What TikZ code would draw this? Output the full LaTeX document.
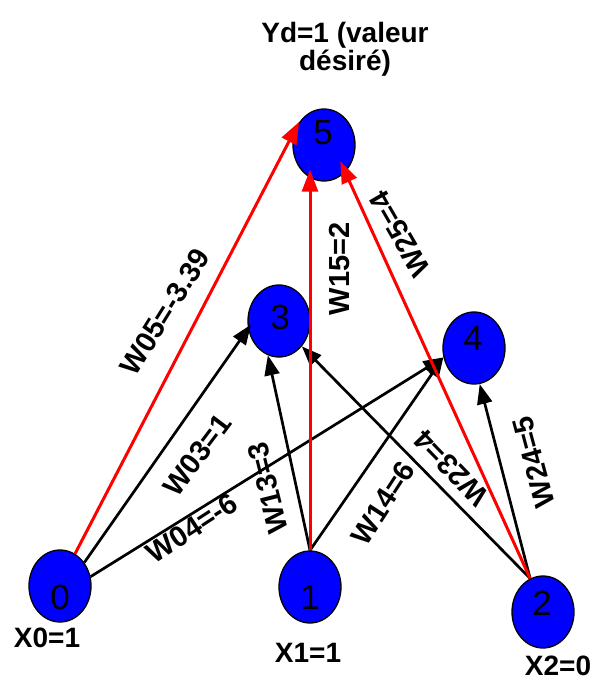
\documentclass[tikz,border=0pt]{standalone}
\usepackage{fontspec}
\setmainfont{Liberation Sans}
\usetikzlibrary{arrows.meta,shapes.geometric,calc}
\definecolor{nblue}{RGB}{0,0,255}
\definecolor{wred}{RGB}{255,0,0}
\begin{document}
\begin{tikzpicture}[x=1pt,y=-1pt,
  neuron/.style={ellipse, draw=black, line width=1.3pt, fill=nblue,
    minimum width=62pt, minimum height=72pt, inner sep=0pt},
  digit/.style={font=\fontsize{35}{36}\selectfont, inner sep=0pt},
  txt/.style={font=\fontsize{28}{28}\selectfont\bfseries, inner sep=0pt},
  elabel/.style={font=\fontsize{29}{30}\selectfont\bfseries, inner sep=0pt},
  wblack/.style={draw=black, line width=2.7pt, -{Triangle[length=20pt,width=15pt]}},
  wredge/.style={draw=wred, line width=3pt, -{Triangle[length=22pt,width=16pt]}}
]
\useasboundingbox (0,0) rectangle (595,682);

% neurons
\node[neuron] (n0) at (60,586) {};
\node[neuron] (n1) at (310,587) {};
\node[neuron] (n2) at (543,612) {};
\node[neuron] (n3) at (279,321) {};
\node[neuron] (n4) at (474,348) {};
\node[neuron] (n5) at (324,145) {};

% black weights
\draw[wblack, shorten >=-5pt] (n0.44) -- (n3.194);
\draw[wblack] (n0.17) -- (n4.197);
\draw[wblack] (n1.north) -- (n3.252);
\draw[wblack] (n1.north) -- (n4.197);
\draw[wblack] (n2.111) -- (n3.312);
\draw[wblack] (n2.111) -- (n4.279);

% red weights towards the output neuron
\draw[wredge, shorten >=-3pt] (n0.65) -- (n5.142);
\draw[wredge, shorten >=-12pt] (n1.north) -- (n1.north |- n5.south);
\draw[wredge, shorten >=-12pt] (n2.111) -- (n5.-52);

% neuron numbers
\node[digit] (d0) at (60,597) {0};
\node[digit] (d1) at (310,597) {1};
\node[digit] (d2) at (542,603) {2};
\node[digit] (d3) at (280,317) {3};
\node[digit] (d4) at (473,338) {4};
\node[digit] (d5) at (323,133) {5};

% inputs and desired output
\node[txt] (x0) at (47,638) {X0=1};
\node[txt] (x1) at (308,653) {X1=1};
\node[txt] (x2) at (558,666) {X2=0};
\node[txt, align=center] (yd) at (345,49) {Yd=1 (valeur\\désiré)};

% weight labels
\node[elabel, rotate=58] (w05) at (165,312) {W05=-3.39};
\node[elabel, rotate=53] (w03) at (197,455) {W03=1};
\node[elabel, rotate=33] (w04) at (192,528) {W04=-6};
\node[elabel, rotate=104] (w13) at (268,488) {W13=3};
\node[elabel, rotate=57] (w14) at (383,503) {W14=6};
\node[elabel, rotate=90] (w15) at (340,269) {W15=2};
\node[elabel, rotate=120] (w25) at (400,234) {W25=4};
\node[elabel, rotate=134] (w23) at (451,468) {W23=4};
\node[elabel, rotate=105] (w24) at (534,462) {W24=5};
\end{tikzpicture}
\end{document}
